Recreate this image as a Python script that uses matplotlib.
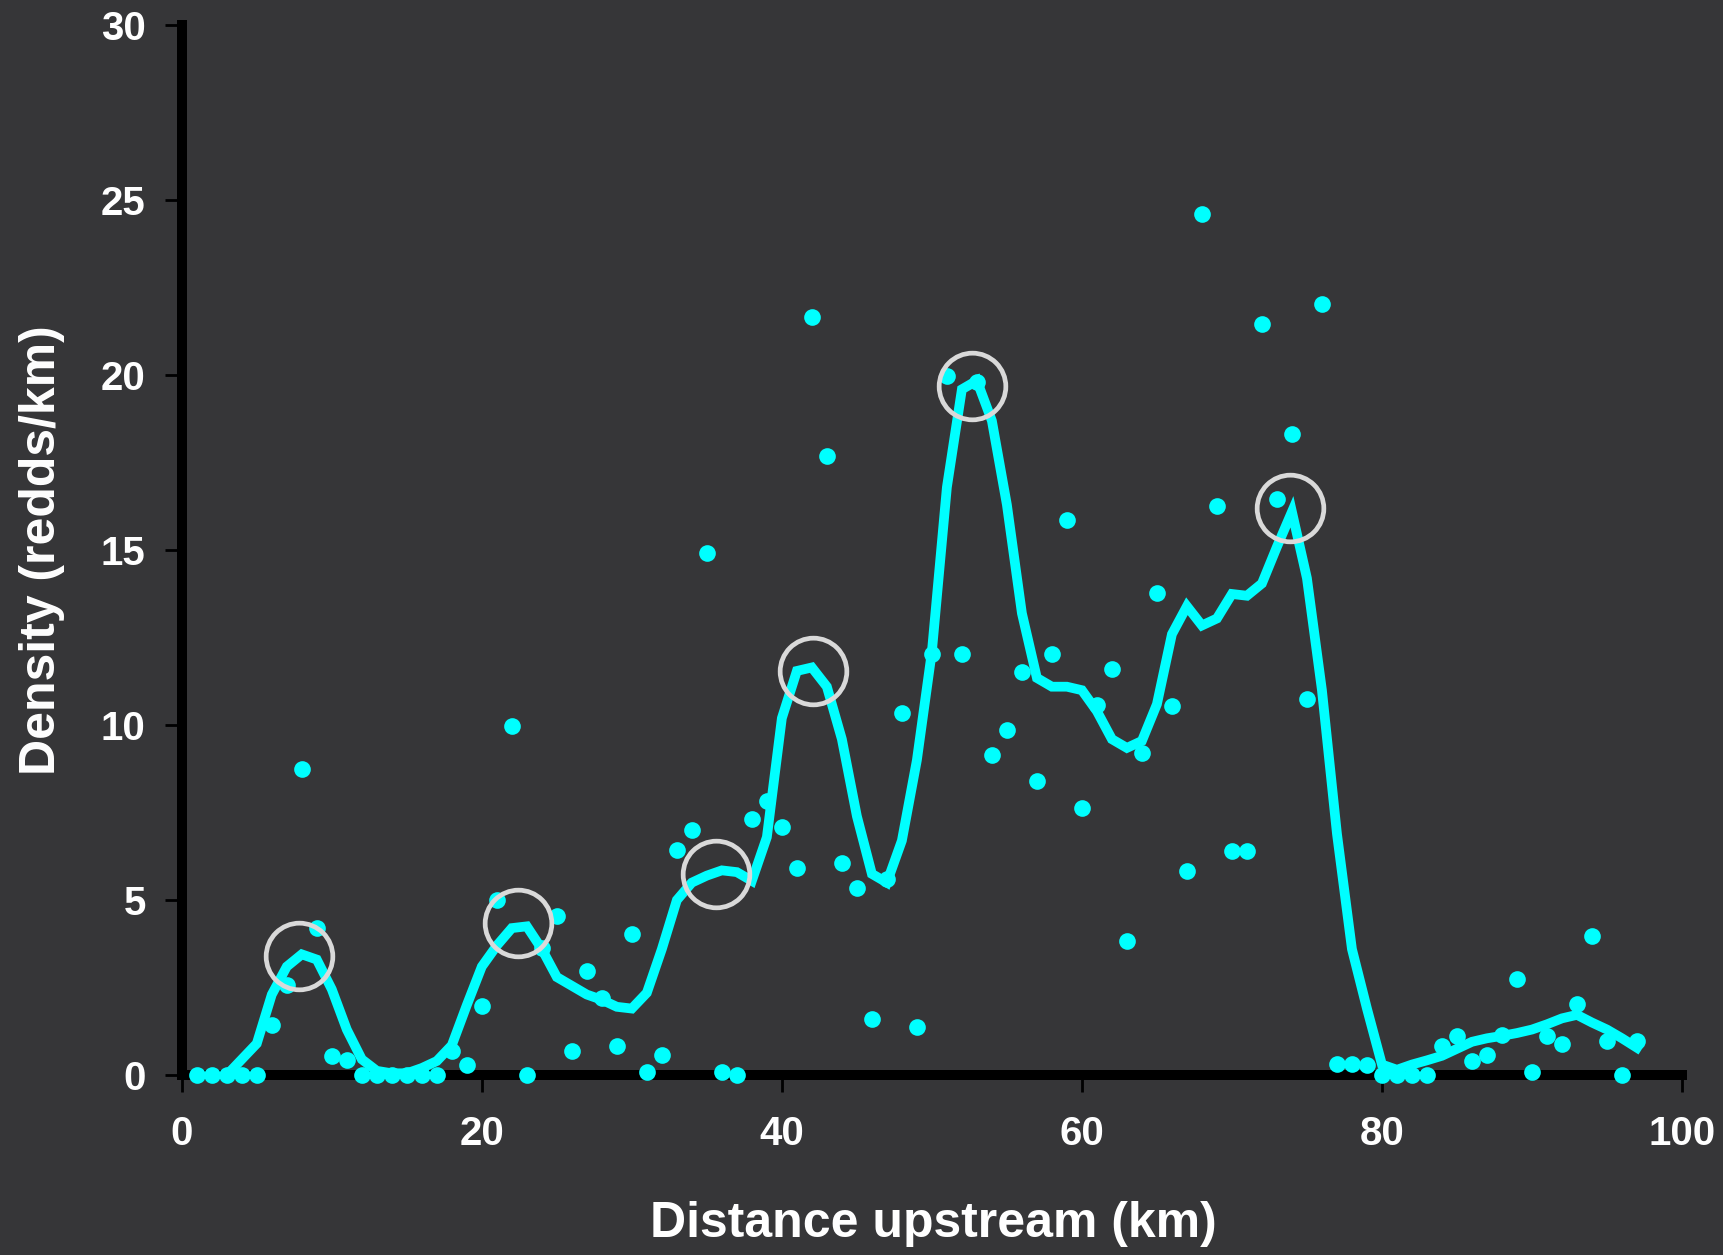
import matplotlib
matplotlib.use("Agg")
import matplotlib.pyplot as plt

# observed redd density per km (dots)
km = list(range(1, 98))
density = [
    0, 0, 0, 0, 0, 1.43, 2.57, 8.76, 4.19, 0.54,            # 1-10
    0.43, 0, 0, 0, 0, 0, 0, 0.69, 0.3, 1.98,                # 11-20
    5.0, 9.98, 0, 3.62, 4.54, 0.69, 2.98, 2.19, 0.83, 4.02, # 21-30
    0.1, 0.57, 6.42, 7.0, 14.92, 0.09, 0, 7.33, 7.82, 7.08, # 31-40
    5.93, 21.67, 17.7, 6.06, 5.35, 1.59, 5.6, 10.36, 1.36, 12.03,  # 41-50
    19.98, 12.03, 19.8, 9.16, 9.85, 11.53, 8.4, 12.04, 15.87, 7.64,  # 51-60
    10.58, 11.6, 3.82, 9.21, 13.79, 10.55, 5.82, 24.6, 16.27, 6.4,   # 61-70
    6.4, 21.46, 16.46, 18.32, 10.74, 22.05, 0.32, 0.32, 0.29, 0,     # 71-80
    0, 0, 0, 0.84, 1.12, 0.41, 0.58, 1.15, 2.75, 0.09,               # 81-90
    1.12, 0.89, 2.02, 3.96, 0.98, 0, 0.98,                           # 91-97
]

# smoothed density (line)
smooth_km = list(range(3, 98))
smooth_density = [
    0.0, 0.45, 0.9, 2.3, 3.1, 3.45, 3.3, 2.45, 1.3, 0.45,    # 3-12
    0.12, 0.05, 0.05, 0.2, 0.4, 0.85, 2.0, 3.1, 3.7, 4.2,    # 13-22
    4.25, 3.6, 2.8, 2.55, 2.3, 2.15, 1.95, 1.9, 2.35, 3.6,   # 23-32
    5.0, 5.5, 5.7, 5.85, 5.8, 5.55, 6.8, 10.2, 11.55, 11.65, # 33-42
    11.1, 9.6, 7.4, 5.75, 5.5, 6.7, 9.0, 12.1, 16.8, 19.6,   # 43-52
    19.85, 18.7, 16.3, 13.2, 11.35, 11.1, 11.1, 11.0, 10.4, 9.6,  # 53-62
    9.35, 9.55, 10.6, 12.6, 13.4, 12.85, 13.05, 13.75, 13.7, 14.05,  # 63-72
    15.1, 16.1, 14.2, 11.0, 6.9, 3.6, 1.9, 0.3, 0.15, 0.3,   # 73-82
    0.42, 0.55, 0.75, 0.95, 1.05, 1.12, 1.2, 1.3, 1.45, 1.62,  # 83-92
    1.72, 1.5, 1.3, 1.05, 0.78,                              # 93-97
]

# highlighted peaks (grey rings)
peak_km = [7.8, 22.4, 35.6, 42.1, 52.7, 73.9]
peak_density = [3.4, 4.35, 5.75, 11.55, 19.7, 16.2]

bg = "#363638"
cyan = "#00ffff"
font = "Liberation Sans"

fig = plt.figure(figsize=(17.23, 12.55), dpi=100, facecolor=bg)
ax = fig.add_axes([0.1055, 0.1434, 0.8707, 0.8363])
ax.set_facecolor(bg)

ax.plot(smooth_km, smooth_density, color=cyan, lw=7, solid_joinstyle="miter",
        zorder=3, clip_on=False)
ax.plot(km, density, "o", color=cyan, ms=12, mew=0, zorder=4, clip_on=False)
ax.plot(peak_km, peak_density, "o", mfc="none", mec="#d9d9d9", ms=48, mew=3.4,
        zorder=5, clip_on=False)

ax.set_xlim(0, 100)
ax.set_ylim(0, 30)
ax.set_xticks(range(0, 101, 20))
ax.set_yticks(range(0, 31, 5))

for side in ["top", "right"]:
    ax.spines[side].set_visible(False)
for side in ["left", "bottom"]:
    ax.spines[side].set_linewidth(7.2)
    ax.spines[side].set_color("black")

ax.tick_params(axis="both", direction="out", length=12, width=2, color="black",
               labelcolor="white", labelsize=29)
ax.tick_params(axis="x", pad=17)
ax.tick_params(axis="y", pad=14)
for lab in ax.get_xticklabels() + ax.get_yticklabels():
    lab.set_fontfamily(font)
    lab.set_fontweight("bold")

ax.set_xlabel("Distance upstream (km)", fontsize=36, fontweight="bold",
              color="white", fontfamily=font)
ax.set_ylabel("Density (redds/km)", fontsize=36, fontweight="bold",
              color="white", fontfamily=font)
ax.xaxis.set_label_coords(0.5008, -0.12)
ax.yaxis.set_label_coords(-0.078, 0.5)

fig.savefig("out.png", dpi=100, facecolor=bg)
